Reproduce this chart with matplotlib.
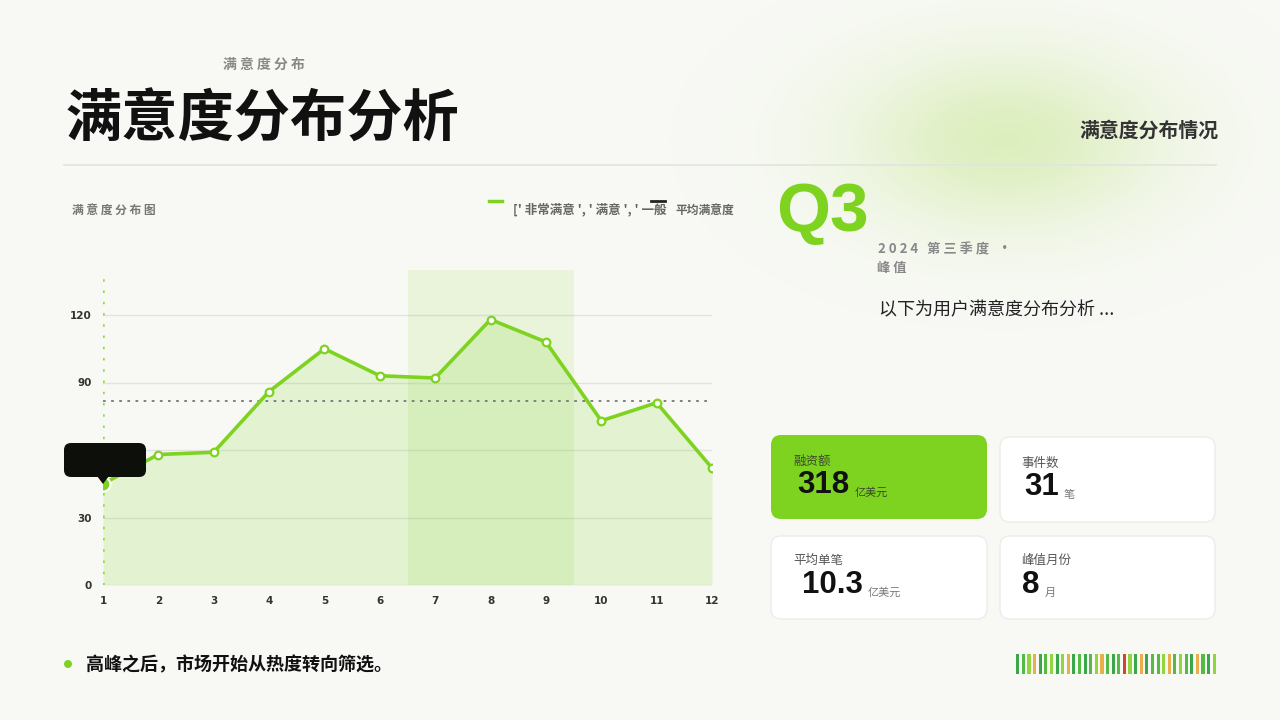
import numpy as np
import matplotlib
matplotlib.use("Agg")
import matplotlib.pyplot as plt
from matplotlib.patches import FancyBboxPatch, Polygon, Circle
from matplotlib.lines import Line2D

plt.rcParams['font.family'] = ['Noto Sans CJK SC', 'DejaVu Sans']

# ---- data ----
months = [1, 2, 3, 4, 5, 6, 7, 8, 9, 10, 11, 12]
satisfaction = [45, 58, 59, 86, 105, 93, 92, 118, 108, 73, 81, 52]
avg_satisfaction = 82
y_ticks = [0, 30, 60, 90, 120]
highlight_months = (7, 9)

kpi_labels = ['融资额', '事件数', '平均单笔', '峰值月份']
kpi_values = ['318', '31', '10.3', '8']
kpi_units = ['亿美元', '笔', '亿美元', '月']

# barcode colour codes: D dark green, M green, L light green, O orange, R red
barcode_codes = list("DMLODMLDLODMDMLOMDMRLDODMMLOMLMDOMDL")

GREEN = '#7ED321'
BG = '#f8f9f5'
code_colors = {'D': '#3aa84a', 'M': '#55bb45', 'L': '#93d63c',
               'O': '#eaae4c', 'R': '#d8413a'}

fig = plt.figure(figsize=(12.8, 7.2), dpi=100, facecolor=BG)


def Y(y):
    return 720 - y


# ---- background glow ----
bg = fig.add_axes([0, 0, 1, 1], zorder=0)
bg.set_xlim(0, 1280)
bg.set_ylim(0, 720)
bg.axis('off')
xx, yy = np.meshgrid(np.arange(1280), np.arange(720))
g = np.exp(-((xx - 1005) / 155.0) ** 2 - ((yy - 140) / 88.0) ** 2)
img = np.zeros((720, 1280, 4))
img[..., 0] = 0.72
img[..., 1] = 0.88
img[..., 2] = 0.45
img[..., 3] = 0.42 * g
bg.imshow(img, extent=[0, 1280, 0, 720], origin='upper', aspect='auto')

# ---- chart ----
ax = fig.add_axes([103 / 1280, 1 - 585 / 720, (712 - 103) / 1280, (585 - 270) / 720], zorder=2)
ax.patch.set_alpha(0)
ax.set_xlim(months[0], months[-1])
ax.set_ylim(0, 140)

ax.axvspan(highlight_months[0] - 0.5, highlight_months[1] + 0.5, color=GREEN, alpha=0.12, lw=0)
ax.fill_between(months, satisfaction, color=GREEN, alpha=0.17, lw=0)
ax.plot(months, satisfaction, color=GREEN, lw=2.6, marker='o', mfc='white',
        mec=GREEN, ms=5.5, mew=1.6, zorder=4)
ax.plot(months[0], satisfaction[0], 'o', color=GREEN, ms=10, mec='white', mew=1.5, zorder=5)
ax.axhline(avg_satisfaction, color='#777777', ls=(0, (1.5, 3)), lw=1.3, zorder=3)
ax.axvline(months[0], color='#8fe03a', ls=(0, (1, 3.5)), lw=1.8, zorder=3)

ax.set_yticks(y_ticks)
ax.set_xticks(months)
ax.yaxis.grid(True, color='#e2e2e2', lw=1)
ax.set_axisbelow(True)
for s in ax.spines.values():
    s.set_visible(False)
ax.tick_params(length=0, labelsize=7.5, labelcolor='#333333', pad=8)
for lab in ax.get_xticklabels() + ax.get_yticklabels():
    lab.set_fontweight('bold')
    lab.set_family(['Liberation Sans Narrow', 'DejaVu Sans'])

# ---- overlay ----
ov = fig.add_axes([0, 0, 1, 1], zorder=5)
ov.set_xlim(0, 1280)
ov.set_ylim(0, 720)
ov.axis('off')
ov.patch.set_alpha(0)

# header
ov.text(264, Y(65), ' '.join('满意度分布'), fontsize=10, color='#888888',
        fontweight='bold', ha='center', va='center')
ov.text(66, Y(120), '满意度分布分析', fontsize=40.5, color='#111111',
        fontweight='bold', ha='left', va='center')
ov.text(1219, Y(130), '满意度分布情况', fontsize=14.3, color='#333333',
        fontweight='bold', ha='right', va='center')
ov.add_line(Line2D([64, 1216], [Y(165), Y(165)], color='#e3e3e0', lw=1.2))

# chart title and legend
ov.text(72, Y(210), ' '.join('满意度分布图'), fontsize=8.5, color='#777777',
        fontweight='bold', ha='left', va='center')
ov.add_line(Line2D([489, 502], [Y(201), Y(201)], color=GREEN, lw=2.5))
ov.text(513, Y(210), "[' 非常满意 ', ' 满意 ', ' 一般", fontsize=9, color='#666666',
        fontweight='bold', ha='left', va='center')
ov.add_line(Line2D([651, 665], [Y(201), Y(201)], color='#222222', lw=2))
ov.text(675, Y(210), '平均满意度', fontsize=8.5, color='#666666',
        fontweight='bold', ha='left', va='center')

# tooltip
ov.add_patch(FancyBboxPatch((64, Y(477)), 82, 34, boxstyle='round,pad=0,rounding_size=7',
                            fc='#0d0f0b', ec='none'))
ov.add_patch(Polygon([[97, Y(476)], [109, Y(476)], [103, Y(484)]], closed=True,
                     fc='#0d0f0b', ec='none'))

# Q3 block
ov.text(776, Y(213), 'Q3', fontsize=50, color=GREEN, fontweight='bold',
        ha='left', va='center', family=['Liberation Sans', 'DejaVu Sans'])
ov.text(878, Y(249), '2 0 2 4   第 三 季 度   ·', fontsize=9.5, color='#888888',
        fontweight='bold', ha='left', va='center')
ov.text(877, Y(268), '峰 值', fontsize=9.5, color='#888888',
        fontweight='bold', ha='left', va='center')
ov.text(879, Y(310), '以下为用户满意度分布分析 ...', fontsize=13, color='#222222',
        ha='left', va='center')

# KPI cards
cards = [(771, 435, 216, 84), (1000, 437, 215, 85), (771, 536, 216, 83), (1000, 536, 215, 83)]
label_pos = [(793, 461), (1021, 463), (793, 560), (1021, 560)]
value_pos = [(797, 485), (1024, 487), (802, 585), (1022, 585)]
fig.canvas.draw()
renderer = fig.canvas.get_renderer()
for i, (x, y, w, h) in enumerate(cards):
    hl = i == 0
    ov.add_patch(FancyBboxPatch((x, Y(y + h)), w, h, boxstyle='round,pad=0,rounding_size=10',
                                fc=GREEN if hl else 'white',
                                ec='none' if hl else '#ececea', lw=1))
    lx, ly = label_pos[i]
    ov.text(lx, Y(ly), kpi_labels[i], fontsize=9, color='#3b4a2a' if hl else '#555555',
            ha='left', va='center')
    vx, vy = value_pos[i]
    t = ov.text(vx, Y(vy), kpi_values[i], fontsize=22.5, color='#111111', fontweight='bold',
                ha='left', va='center', family=['Liberation Sans', 'DejaVu Sans'])
    bb = t.get_window_extent(renderer=renderer)
    ov.text(bb.x1 + 5, Y(vy + 8), kpi_units[i], fontsize=8,
            color='#3b4a2a' if hl else '#777777', ha='left', va='center')

# bottom note
ov.add_patch(Circle((68, Y(664)), 4, fc=GREEN, ec='none'))
ov.text(86, Y(665), '高峰之后，市场开始从热度转向筛选。', fontsize=13, color='#111111',
        fontweight='bold', ha='left', va='center')

# barcode
bar_ax = fig.add_axes([1015 / 1280, 1 - 674 / 720, 202 / 1280, 20 / 720], zorder=5)
bar_ax.axis('off')
bar_ax.patch.set_alpha(0)
n = len(barcode_codes)
bar_ax.bar(range(n), [1] * n, width=0.55, color=[code_colors[c] for c in barcode_codes])
bar_ax.set_xlim(-0.5, n - 0.5)
bar_ax.set_ylim(0, 1)

fig.savefig('out.png', dpi=100, facecolor=BG)
